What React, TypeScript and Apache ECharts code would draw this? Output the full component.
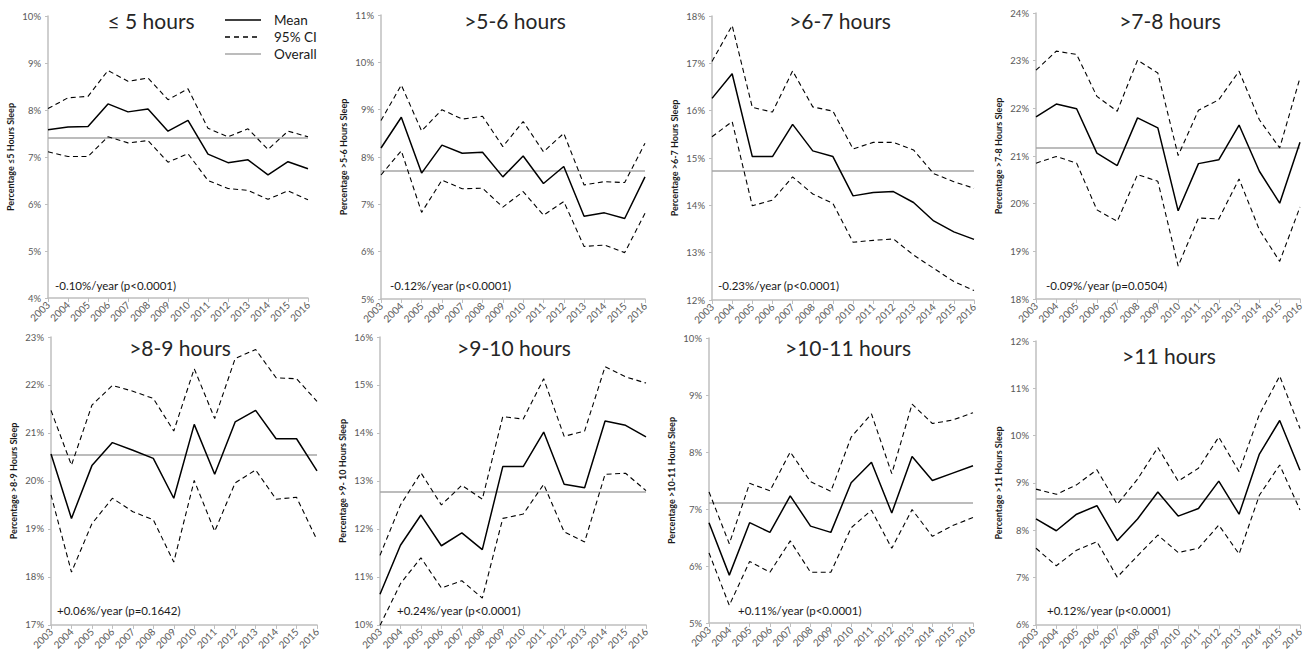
import React, { useEffect, useRef } from "react";
import * as echarts from "echarts";

const years = ["2003","2004","2005","2006","2007","2008","2009","2010","2011","2012","2013","2014","2015","2016"];

const panelTitles = ["≤ 5 hours", ">5-6 hours", ">6-7 hours", ">7-8 hours", ">8-9 hours", ">9-10 hours", ">10-11 hours", ">11 hours"];
const yAxisNames = [
  "Percentage ≤5 Hours Sleep",
  "Percentage >5-6 Hours Sleep",
  "Percentage >6-7 Hours Sleep",
  "Percentage >7-8 Hours Sleep",
  "Percentage >8-9 Hours Sleep",
  "Percentage >9- 10 Hours Sleep",
  "Percentage >10-11 Hours Sleep",
  "Percentage >11 Hours Sleep",
];
const trendLabels = [
  "-0.10%/year (p<0.0001)",
  "-0.12%/year (p<0.0001)",
  "-0.23%/year (p<0.0001)",
  "-0.09%/year (p=0.0504)",
  "+0.06%/year (p=0.1642)",
  "+0.24%/year (p<0.0001)",
  "+0.11%/year (p<0.0001)",
  "+0.12%/year (p<0.0001)",
];
const yMins = [4, 5, 12, 18, 17, 10, 5, 6];
const yMaxs = [10, 11, 18, 24, 23, 16, 10, 12];
const overallValues = [7.40, 7.70, 14.73, 21.17, 20.54, 12.77, 7.11, 8.66];

const meanLe5 = [7.58,7.64,7.65,8.13,7.96,8.02,7.55,7.78,7.06,6.88,6.94,6.62,6.90,6.75];
const upperLe5 = [8.03,8.26,8.29,8.84,8.61,8.68,8.22,8.45,7.61,7.43,7.60,7.16,7.55,7.43];
const lowerLe5 = [7.11,7.01,7.01,7.43,7.30,7.35,6.89,7.07,6.50,6.33,6.29,6.10,6.28,6.09];

const mean5to6 = [8.19,8.84,7.66,8.25,8.08,8.10,7.58,8.02,7.44,7.80,6.75,6.82,6.70,7.58];
const upper5to6 = [8.77,9.52,8.55,9.00,8.80,8.86,8.22,8.75,8.11,8.50,7.41,7.48,7.46,8.29];
const lower5to6 = [7.62,8.13,6.83,7.51,7.33,7.34,6.94,7.27,6.77,7.06,6.11,6.14,5.98,6.81];

const mean6to7 = [16.26,16.78,15.03,15.03,15.71,15.15,15.03,14.20,14.27,14.29,14.06,13.67,13.44,13.28];
const upper6to7 = [17.04,17.80,16.07,15.97,16.84,16.08,15.99,15.19,15.33,15.33,15.17,14.67,14.50,14.36];
const lower6to7 = [15.45,15.77,13.99,14.11,14.60,14.24,14.04,13.22,13.26,13.29,12.95,12.67,12.39,12.20];

const mean7to8 = [21.82,22.09,21.99,21.06,20.80,21.80,21.59,19.85,20.84,20.92,21.65,20.68,20.01,21.29];
const upper7to8 = [22.80,23.20,23.13,22.25,21.94,23.01,22.74,21.01,21.96,22.18,22.78,21.76,21.17,22.64];
const lower7to8 = [20.85,20.99,20.85,19.87,19.63,20.61,20.47,18.69,19.70,19.68,20.52,19.45,18.79,19.93];

const mean8to9 = [20.56,19.22,20.32,20.80,20.64,20.47,19.64,21.18,20.14,21.23,21.47,20.88,20.88,20.21];
const upper8to9 = [21.47,20.33,21.58,21.99,21.87,21.72,21.04,22.34,21.30,22.55,22.74,22.15,22.13,21.66];
const lower8to9 = [19.71,18.10,19.11,19.64,19.36,19.19,18.31,20.01,18.95,19.96,20.23,19.62,19.66,18.77];

const mean9to10 = [10.64,11.66,12.29,11.65,11.92,11.57,13.30,13.30,14.02,12.93,12.86,14.25,14.16,13.92];
const upper9to10 = [11.45,12.50,13.17,12.50,12.91,12.62,14.34,14.29,15.13,13.93,14.04,15.38,15.17,15.04];
const lower9to10 = [9.99,10.86,11.40,10.77,10.92,10.56,12.22,12.31,12.93,11.94,11.73,13.14,13.16,12.80];

const mean10to11 = [6.76,5.84,6.76,6.59,7.23,6.70,6.59,7.46,7.82,6.93,7.92,7.50,7.63,7.76];
const upper10to11 = [7.30,6.39,7.45,7.32,8.00,7.48,7.31,8.26,8.67,7.62,8.84,8.50,8.56,8.69];
const lower10to11 = [6.23,5.31,6.08,5.89,6.44,5.89,5.89,6.67,6.98,6.31,6.99,6.52,6.71,6.85];

const meanGt11 = [8.24,7.99,8.34,8.52,7.78,8.24,8.81,8.30,8.46,9.04,8.34,9.61,10.32,9.27];
const upperGt11 = [8.87,8.76,8.96,9.28,8.55,9.08,9.75,9.04,9.31,9.97,9.24,10.45,11.26,10.15];
const lowerGt11 = [7.62,7.25,7.58,7.76,7.01,7.46,7.90,7.53,7.62,8.11,7.50,8.74,9.38,8.43];

const meanSeries = [meanLe5, mean5to6, mean6to7, mean7to8, mean8to9, mean9to10, mean10to11, meanGt11];
const upperSeries = [upperLe5, upper5to6, upper6to7, upper7to8, upper8to9, upper9to10, upper10to11, upperGt11];
const lowerSeries = [lowerLe5, lower5to6, lower6to7, lower7to8, lower8to9, lower9to10, lower10to11, lowerGt11];

// layout (left, top, width, height) per panel
const gridBoxes = [
  [48, 16, 260, 282],
  [381, 15, 264, 284],
  [712, 16, 262, 284],
  [1036, 13, 264, 286],
  [51, 337, 266, 288],
  [380, 337, 266, 288],
  [709, 338, 264, 285],
  [1036, 341, 264, 284],
];
const titlePos = [
  [151, 20], [515, 20], [840, 20], [1170, 20],
  [180, 347], [514, 347], [848, 347], [1169, 355],
];
const trendPos = [
  [55, 285], [390, 285], [718, 285], [1046, 285],
  [57, 610], [397, 610], [738, 610], [1047, 610],
];

const FONT = "Lato, 'Open Sans', sans-serif";
const AXIS_COLOR = "#bfbfbf";
const LABEL_COLOR = "#595959";

export default function App() {
  const ref = useRef<HTMLDivElement>(null);
  useEffect(() => {
    if (!ref.current) return;
    const chart = echarts.init(ref.current, null, { renderer: "svg" });
    const grids: any[] = [];
    const xAxes: any[] = [];
    const yAxes: any[] = [];
    const series: any[] = [];
    const graphics: any[] = [];
    for (let i = 0; i < 8; i++) {
      const [l, t, w, h] = gridBoxes[i];
      grids.push({ left: l, top: t, width: w, height: h, containLabel: false });
      xAxes.push({
        type: "category",
        gridIndex: i,
        data: years,
        boundaryGap: false,
        axisLine: { lineStyle: { color: AXIS_COLOR, width: 1.5 } },
        axisTick: { show: true, length: 4, alignWithLabel: true, lineStyle: { color: AXIS_COLOR } },
        axisLabel: { rotate: 45, fontSize: 10, color: LABEL_COLOR, fontFamily: FONT, margin: 5, interval: 0 },
        splitLine: { show: false },
      });
      yAxes.push({
        type: "value",
        gridIndex: i,
        min: yMins[i],
        max: yMaxs[i],
        interval: 1,
        name: yAxisNames[i],
        nameLocation: "middle",
        nameGap: 33,
        nameTextStyle: { fontSize: 9, fontWeight: "bold", color: "#1a1a1a", fontFamily: FONT },
        axisLine: { show: true, lineStyle: { color: AXIS_COLOR, width: 1.5 } },
        axisTick: { show: true, length: 3, lineStyle: { color: AXIS_COLOR } },
        axisLabel: { formatter: "{value}%", fontSize: 9.5, color: LABEL_COLOR, fontFamily: FONT, margin: 7 },
        splitLine: { show: false },
      });
      series.push({
        name: "Mean",
        type: "line",
        xAxisIndex: i,
        yAxisIndex: i,
        data: meanSeries[i],
        showSymbol: false,
        symbol: "none",
        lineStyle: { color: "#000", width: 1.5 },
        z: 3,
        markLine: {
          silent: true,
          symbol: ["none", "none"],
          label: { show: false },
          lineStyle: { color: "#a6a6a6", type: "solid", width: 1.5 },
          data: [{ yAxis: overallValues[i] }],
          z: 1,
        },
      });
      for (const [nm, arr] of [["Upper 95% CI", upperSeries[i]], ["Lower 95% CI", lowerSeries[i]]] as any) {
        series.push({
          name: nm,
          type: "line",
          xAxisIndex: i,
          yAxisIndex: i,
          data: arr,
          showSymbol: false,
          symbol: "none",
          lineStyle: { color: "#000", width: 1.1, type: [5, 3.5] },
          z: 2,
        });
      }
      graphics.push({
        type: "text",
        x: titlePos[i][0],
        y: titlePos[i][1],
        style: {
          text: panelTitles[i],
          font: `normal 21px ${FONT}`,
          fill: "#262626",
          textAlign: "center",
          textVerticalAlign: "middle",
        },
      });
      graphics.push({
        type: "text",
        x: trendPos[i][0],
        y: trendPos[i][1],
        style: {
          text: trendLabels[i],
          font: `11.5px ${FONT}`,
          fill: "#1a1a1a",
          textAlign: "left",
          textVerticalAlign: "middle",
        },
      });
    }
    // legend
    const legendItems = [
      { label: "Mean", y: 20, dash: null as any, color: "#000" },
      { label: "95% CI", y: 37, dash: [5, 4], color: "#000" },
      { label: "Overall", y: 54, dash: null as any, color: "#a6a6a6" },
    ];
    for (const it of legendItems) {
      graphics.push({
        type: "line",
        shape: { x1: 225, y1: it.y, x2: 261, y2: it.y },
        style: { stroke: it.color, lineWidth: 1.6, lineDash: it.dash || undefined },
      });
      graphics.push({
        type: "text",
        x: 274,
        y: it.y,
        style: {
          text: it.label,
          font: `13.5px ${FONT}`,
          fill: "#1a1a1a",
          textAlign: "left",
          textVerticalAlign: "middle",
        },
      });
    }
    chart.setOption({
      animation: false,
      backgroundColor: "#ffffff",
      grid: grids,
      xAxis: xAxes,
      yAxis: yAxes,
      series,
      graphic: graphics,
    });
    return () => chart.dispose();
  }, []);
  return (
    <div
      ref={ref}
      style={{ position: "fixed", left: 0, top: 0, width: 1312, height: 652, background: "#fff" }}
    />
  );
}
